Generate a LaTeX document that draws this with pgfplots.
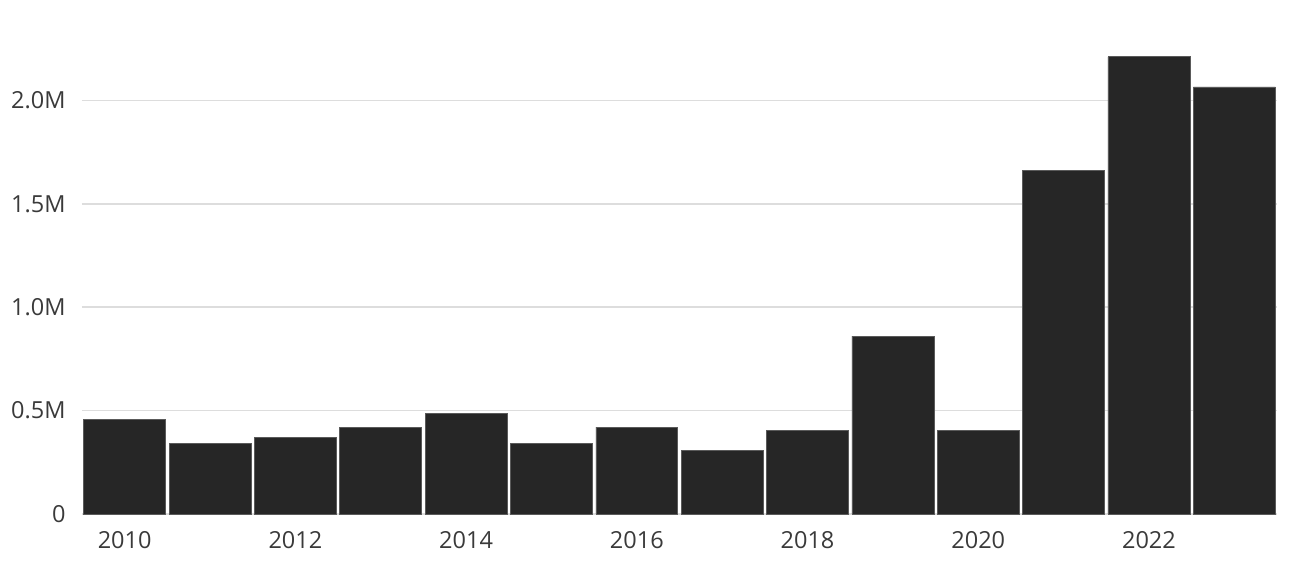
\documentclass[border=0pt]{standalone}
\usepackage{pgfplots}
\pgfplotsset{compat=1.18}
\usepackage{fontspec}
\setmainfont{Open Sans}
\definecolor{barfill}{HTML}{262626}
\definecolor{barline}{HTML}{5A5A5A}
\definecolor{gridc}{HTML}{DDDDDD}
\definecolor{textc}{HTML}{3A3A3A}

\pgfplotstableread{
idx year value
0 2010 0.459
1 2011 0.343
2 2012 0.372
3 2013 0.420
4 2014 0.488
5 2015 0.343
6 2016 0.420
7 2017 0.309
8 2018 0.406
9 2019 0.860
10 2020 0.406
11 2021 1.663
12 2022 2.211
13 2023 2.065
}\datatable

\begin{document}
\begin{tikzpicture}
\useasboundingbox (-82pt,-55pt) rectangle (1217pt,514pt);
\begin{axis}[
    at={(0pt,0pt)}, anchor=south west,
    scale only axis,
    width=1195pt, height=465.3pt,
    xmin=-0.5, xmax=13.5,
    ymin=0, ymax=2.25,
    axis x line*=bottom, axis y line*=left,
    axis line style={draw=none},
    ytick={0,0.5,1,1.5,2},
    yticklabels={0,0.5M,1.0M,1.5M,2.0M},
    ymajorgrids=true,
    grid style={gridc, line width=1.5pt},
    major tick length=0pt,
    xtick={0,2,4,6,8,10,12},
    xticklabels={2010,2012,2014,2016,2018,2020,2022},
    ticklabel style={font=\fontsize{23.5}{27}\selectfont, text=textc},
    xticklabel style={anchor=north, yshift=-14pt},
    yticklabel style={anchor=east, xshift=-13pt},
    ybar, bar width=0.96,
    clip=false,
]
\addplot[fill=barfill, draw=barline, line width=0.6pt] table[x=idx, y=value] {\datatable};
\end{axis}
\end{tikzpicture}
\end{document}
